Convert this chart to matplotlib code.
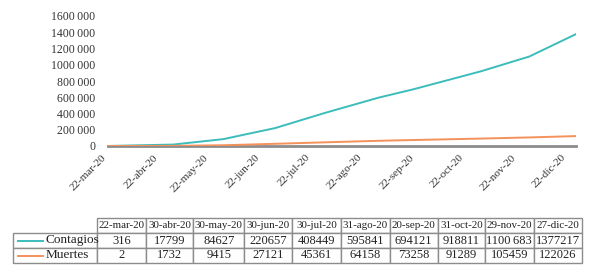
import datetime as dt
import matplotlib.pyplot as plt
from matplotlib.lines import Line2D
from matplotlib.transforms import ScaledTranslation

plt.rcParams['font.family'] = ['Liberation Serif', 'DejaVu Serif']

months_es = ['ene', 'feb', 'mar', 'abr', 'may', 'jun', 'jul', 'ago', 'sep', 'oct', 'nov', 'dic']
dates = ['22-mar-20', '30-abr-20', '30-may-20', '30-jun-20', '30-jul-20',
         '31-ago-20', '20-sep-20', '31-oct-20', '29-nov-20', '27-dic-20']
contagios = [316, 17799, 84627, 220657, 408449, 595841, 694121, 918811, 1100683, 1377217]
muertes = [2, 1732, 9415, 27121, 45361, 64158, 73258, 91289, 105459, 122026]


def parse(s):
    d, m, y = s.split('-')
    return dt.date(2000 + int(y), months_es.index(m) + 1, int(d))


x = [parse(s) for s in dates]
tick_dates = [dt.date(2020, m, 22) for m in range(3, 13)]

teal = '#3dbcbc'
orange = '#f5915a'

fig = plt.figure(figsize=(5.97, 2.79), dpi=100)
W, H = 597, 279

ax = fig.add_axes([108 / W, (H - 146) / H, (576 - 108) / W, 130 / H])
ax.plot(x, contagios, color=teal, lw=1.4, zorder=3)
ax.plot(x, muertes, color=orange, lw=1.4, zorder=3)
ax.set_xlim(x[0], x[-1])
ax.set_ylim(0, 1600000)
ax.set_yticks(range(0, 1600001, 200000))


def fmt(v):
    if v == 0:
        return '0'
    s = f'{v:,}'.split(',')
    return ''.join(s[:-1]) + '\u2009' + s[-1]


ax.set_yticklabels([fmt(v) for v in range(0, 1600001, 200000)], fontsize=8.5, color='#333333')
ax.set_xticks(tick_dates)
ax.set_xticklabels([f'{d.day}-{months_es[d.month - 1]}-{d.year % 100}' for d in tick_dates],
                   rotation=45, ha='right', va='top', fontsize=8, color='#333333')
off = ScaledTranslation(9 / 100, 0, fig.dpi_scale_trans)
for lab in ax.get_xticklabels():
    lab.set_transform(lab.get_transform() + off)
ax.tick_params(length=0)
ax.tick_params(axis='y', pad=9)
ax.tick_params(axis='x', pad=5)
for s in ['top', 'right', 'left']:
    ax.spines[s].set_visible(False)
ax.spines['bottom'].set_color('#8c8c8c')
ax.spines['bottom'].set_linewidth(2)
ax.patch.set_alpha(0)

# data table
tax = fig.add_axes([13 / W, (H - 263) / H, (582 - 13) / W, 45 / H])
tax.axis('off')
col_w = [84, 49, 47, 51, 48, 48, 49, 48, 47, 49, 48]
tot = sum(col_w)
cell_text = [[''] + [str(v) for v in contagios],
             [''] + [str(v) for v in muertes]]
cell_text[0][9] = '1100\u2009683'
tbl = tax.table(cellText=cell_text, colLabels=[''] + dates,
                colWidths=[w / tot for w in col_w], bbox=[0, 0, 1, 1],
                cellLoc='center')
tbl.auto_set_font_size(False)
tbl.set_fontsize(9)
for (r, c), cell in tbl.get_celld().items():
    cell.set_edgecolor('#8c8c8c')
    cell.set_linewidth(1)
    cell.PAD = 0.02
    cell.get_text().set_color('#222222')
    if r == 0:
        cell.get_text().set_fontsize(7.9)
    if r == 0 and c == 0:
        cell.set_edgecolor('none')

row_names = ['Contagios', 'Muertes']
row_colors = [teal, orange]
for i, (name, col) in enumerate(zip(row_names, row_colors)):
    yc = 1 - (i + 1.5) / 3
    tax.add_line(Line2D([0.008, 0.052], [yc, yc], color=col, lw=1.4,
                        transform=tax.transAxes))
    tax.text(0.057, yc, name, ha='left', va='center', fontsize=9.5,
             color='#222222', transform=tax.transAxes)

fig.savefig('out.png', dpi=100)
